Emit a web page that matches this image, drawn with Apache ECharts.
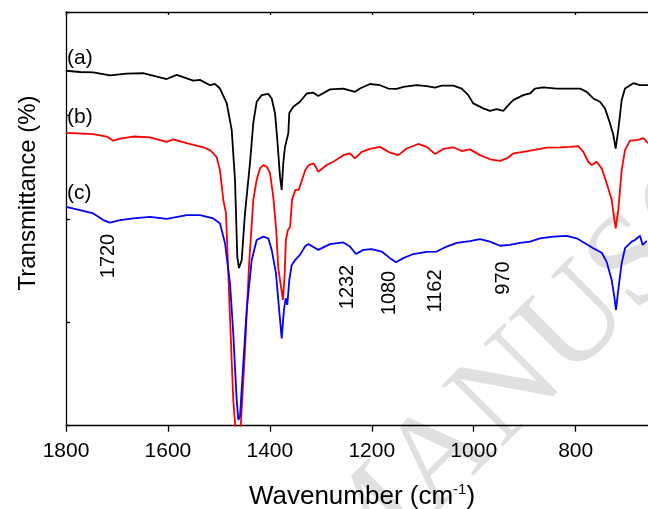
<!DOCTYPE html>
<html>
<head>
<meta charset="utf-8">
<script src="https://cdn.jsdelivr.net/npm/echarts/dist/echarts.min.js"></script>
<style>
html, body { margin: 0; padding: 0; background: #fff; overflow: hidden; }
#chart { width: 720px; height: 509px; }
</style>
</head>
<body>
<div id="chart"></div>
<script>
// FTIR spectra, [wavenumber (cm-1), transmittance (offset, arb. units)]
const spectrumA = [
  [1800, 85.8], [1772.5, 85.5], [1746.4, 85.4], [1713.7, 84.7], [1680.9, 85.1], [1648.9, 85.2],
  [1602.4, 83.8], [1582.8, 84.8], [1550.2, 83.4], [1537.1, 83.6], [1517.5, 82.3], [1507.7, 82.6],
  [1497.9, 81.5], [1484.7, 78.0], [1474.9, 71.5], [1468.4, 59.4], [1463.9, 40.8], [1460.6, 38.1],
  [1455.3, 40.0], [1448.8, 51.4], [1439.0, 63.5], [1432.5, 73.2], [1425.9, 78.3], [1416.0, 79.9],
  [1403.1, 80.2], [1396.4, 79.1], [1390.0, 75.6], [1385.4, 69.1], [1380.1, 60.2], [1376.8, 57.0],
  [1373.7, 63.5], [1370.3, 67.4], [1367.0, 67.8], [1363.8, 70.7], [1361.9, 75.6], [1354.0, 77.1],
  [1340.9, 78.3], [1327.7, 80.3], [1314.8, 80.5], [1305.0, 79.7], [1282.0, 81.3], [1255.9, 81.5],
  [1233.0, 80.7], [1223.2, 81.5], [1203.6, 82.6], [1183.9, 82.3], [1167.6, 81.5], [1151.2, 81.4],
  [1138.2, 81.9], [1111.9, 82.3], [1092.3, 82.1], [1076.0, 81.7], [1062.9, 82.2], [1040.1, 82.2],
  [1023.6, 81.5], [1010.7, 79.9], [1000.9, 77.9], [981.3, 76.7], [968.1, 76.1], [955.0, 76.5],
  [942.0, 76.1], [928.9, 77.9], [922.4, 78.7], [902.8, 79.9], [889.6, 80.3], [879.8, 81.5],
  [863.5, 81.8], [837.3, 81.5], [811.2, 81.5], [791.5, 81.5], [778.4, 80.7], [765.4, 79.1],
  [752.3, 78.3], [742.5, 76.7], [732.7, 73.1], [726.2, 70.3], [721.5, 67.0], [716.4, 71.5],
  [709.7, 78.7], [703.2, 81.5], [686.9, 82.8], [673.8, 82.3], [658.1, 82.3]
];

const spectrumB = [
  [1800, 70.8], [1746.4, 70.5], [1720.1, 69.9], [1707.2, 68.9], [1694.1, 69.4], [1668.0, 69.9],
  [1635.2, 69.7], [1602.4, 68.6], [1589.5, 69.2], [1563.2, 68.3], [1530.6, 67.3], [1517.5, 66.6],
  [1511.0, 65.8], [1504.3, 64.9], [1497.9, 61.8], [1491.4, 54.6], [1486.1, 51.4], [1479.6, 30.4],
  [1471.8, 6.2], [1466, -3], [1463, -6], [1460, -3], [1457.2, -0.2], [1448.8, 18.3],
  [1440.9, 38.8], [1432.5, 54.6], [1425.9, 59.4], [1419.4, 62.2], [1412.9, 63.0], [1406.2, 62.6],
  [1399.8, 61.1], [1393.3, 55.3], [1387.4, 47.1], [1383.5, 38.1], [1374.4, 30.4], [1371.2, 36.0],
  [1368.6, 44.9], [1364.6, 47.3], [1360.2, 48.1], [1356.5, 54.6], [1350.0, 57.0], [1343.4, 57.0],
  [1336.9, 59.4], [1330.4, 61.8], [1323.7, 63.0], [1313.9, 63.4], [1305.0, 61.4], [1288.5, 63.0],
  [1275.6, 63.8], [1255.9, 65.4], [1242.8, 65.8], [1233.0, 64.6], [1219.8, 66.2], [1203.6, 66.9],
  [1183.9, 67.4], [1164.3, 66.0], [1148.0, 65.4], [1131.6, 67.0], [1108.8, 68.1], [1092.3, 67.4],
  [1076.0, 65.7], [1059.7, 66.9], [1040.1, 67.3], [1023.6, 66.4], [1007.4, 66.8], [987.7, 65.4],
  [968.1, 64.4], [948.5, 64.0], [935.3, 64.6], [922.4, 65.8], [902.8, 66.2], [883.1, 66.6],
  [856.9, 67.2], [830.8, 67.3], [811.2, 67.4], [794.9, 67.6], [785.0, 66.2], [775.3, 63.8],
  [768.6, 63.0], [758.8, 63.8], [749.0, 62.2], [739.2, 58.6], [729.3, 54.6], [724.8, 50.5],
  [721.5, 47.7], [716.4, 52.1], [709.7, 61.8], [703.2, 66.6], [693.4, 68.9], [677.1, 69.1],
  [667.3, 69.5], [658.1, 68.3]
];

const spectrumC = [
  [1800, 52.9], [1772.5, 52.1], [1746.4, 51.3], [1726.8, 49.7], [1713.7, 49.1], [1694.1, 49.7],
  [1668.0, 50.1], [1635.2, 50.5], [1602.4, 50.0], [1563.2, 50.9], [1537.1, 50.9], [1511.0, 50.1],
  [1497.9, 48.9], [1488.0, 44.1], [1478.2, 34.4], [1471.8, 22.3], [1465.1, 6.2], [1461.9, 1.4],
  [1458.6, 2.2], [1453.3, 12.7], [1445.5, 28.0], [1435.7, 40.0], [1425.9, 44.9], [1412.9, 45.7],
  [1403.1, 45.3], [1396.4, 42.5], [1388.0, 36.8], [1383.5, 30.4], [1376.8, 21.1], [1372.4, 28.0],
  [1368.9, 30.8], [1365.8, 29.2], [1361.9, 35.2], [1357.2, 38.8], [1350.7, 40.0], [1340.9, 41.3],
  [1331.1, 43.3], [1324.6, 43.9], [1305.0, 42.5], [1282.0, 43.9], [1255.9, 44.3], [1242.8, 43.3],
  [1231.0, 41.5], [1216.7, 42.5], [1200.2, 42.7], [1180.6, 42.1], [1164.3, 40.5], [1152.5, 39.5],
  [1138.2, 40.5], [1118.6, 41.5], [1092.3, 42.0], [1072.7, 42.1], [1053.0, 43.3], [1033.5, 44.2],
  [1007.4, 44.6], [987.7, 45.1], [968.1, 44.5], [948.5, 43.5], [928.9, 43.7], [909.3, 44.2],
  [889.6, 44.5], [870.0, 45.3], [843.9, 45.7], [817.6, 45.9], [798.0, 45.3], [781.7, 44.1],
  [765.4, 42.9], [748.9, 41.8], [739.2, 39.6], [729.3, 35.2], [724.2, 31.2], [720.9, 28.0],
  [716.4, 32.8], [709.7, 39.3], [703.2, 42.9], [690.1, 44.5], [683.6, 44.9], [673.8, 45.9],
  [668.5, 43.7], [660.6, 44.7]
];

const seriesNames = ['(a)', '(b)', '(c)'];
const seriesColors = ['#000000', '#ff0000', '#0000ff'];
const bandLabels = ['1720', '1232', '1080', '1162', '970'];

const FONT = '"Liberation Sans", Arial, Helvetica, sans-serif';
const chart = echarts.init(document.getElementById('chart'), null, { renderer: 'canvas' });

const axisLineStyle = { color: '#000', width: 1.3 };

function rotatedLabel(text, x, y) {
  return {
    type: 'text', x: x, y: y, rotation: Math.PI / 2, z: 10,
    style: { text: text, fill: '#000', font: '20px ' + FONT, textAlign: 'center', textVerticalAlign: 'middle' }
  };
}
function curveLabel(text, x, y) {
  return {
    type: 'text', x: x, y: y, z: 10,
    style: { text: text, fill: '#000', font: '21px ' + FONT, textAlign: 'left', textVerticalAlign: 'middle' }
  };
}

const option = {
  animation: false,
  backgroundColor: '#fff',
  grid: { left: 66, top: 12, width: 611.6, bottom: 83.3, containLabel: false, outerBoundsMode: 'none' },
  xAxis: [
    {
      type: 'value', min: 600, max: 1800, interval: 200, inverse: true,
      axisLine: { show: true, onZero: false, lineStyle: axisLineStyle },
      axisTick: { show: true, inside: false, length: 6, lineStyle: axisLineStyle },
      axisLabel: { show: true, fontSize: 21, color: '#000', fontFamily: FONT, margin: 15,
                   formatter: v => String(v) },
      splitLine: { show: false }
    },
    {
      type: 'value', position: 'top', min: 600, max: 1800, interval: 200, inverse: true,
      axisLine: { show: true, onZero: false, lineStyle: axisLineStyle },
      axisTick: { show: true, inside: true, length: 3, lineStyle: axisLineStyle },
      axisLabel: { show: false },
      splitLine: { show: false }
    }
  ],
  yAxis: {
    type: 'value', min: 0, max: 100, interval: 25,
    axisLine: { show: true, onZero: false, lineStyle: axisLineStyle },
    axisTick: { show: true, inside: true, length: 4, lineStyle: axisLineStyle },
    axisLabel: { show: false },
    splitLine: { show: false }
  },
  series: [spectrumA, spectrumB, spectrumC].map((d, i) => ({
    name: seriesNames[i],
    type: 'line',
    xAxisIndex: 0,
    data: d,
    symbol: 'none',
    smooth: false,
    clip: true,
    z: 3 + i,
    lineStyle: { color: seriesColors[i], width: 1.8 }
  })),
  graphic: [
    // faint diagonal watermark behind the traces
    {
      type: 'text', x: 325, y: 575, rotation: 0.785, z: -10, silent: true,
      style: { text: 'MANUSCRIPT', fill: '#e0e0e0', font: '132px "Liberation Serif", "Times New Roman", serif',
               textAlign: 'left', textVerticalAlign: 'middle' }
    },
    curveLabel(seriesNames[0], 67, 58),
    curveLabel(seriesNames[1], 67, 117),
    curveLabel(seriesNames[2], 67, 193),
    rotatedLabel(bandLabels[0], 108, 256),
    rotatedLabel(bandLabels[1], 347, 287),
    rotatedLabel(bandLabels[2], 389, 293),
    rotatedLabel(bandLabels[3], 435, 291),
    rotatedLabel(bandLabels[4], 503, 278),
    {
      type: 'text', x: 28, y: 193, rotation: Math.PI / 2, z: 10,
      style: { text: 'Transmittance (%)', fill: '#000', font: '24px ' + FONT, textAlign: 'center', textVerticalAlign: 'middle' }
    },
    {
      type: 'text', x: 362, y: 495, z: 10,
      style: {
        text: '{m|Wavenumber (cm}{s|-1}{m|)}',
        textAlign: 'center', textVerticalAlign: 'middle',
        rich: {
          m: { fontSize: 26, fontFamily: FONT, fill: '#000', lineHeight: 30, verticalAlign: 'bottom' },
          s: { fontSize: 15, fontFamily: FONT, fill: '#000', lineHeight: 30, verticalAlign: 'top', padding: [2, 0, 0, 0] }
        }
      }
    }
  ]
};

chart.setOption(option);
</script>
</body>
</html>
